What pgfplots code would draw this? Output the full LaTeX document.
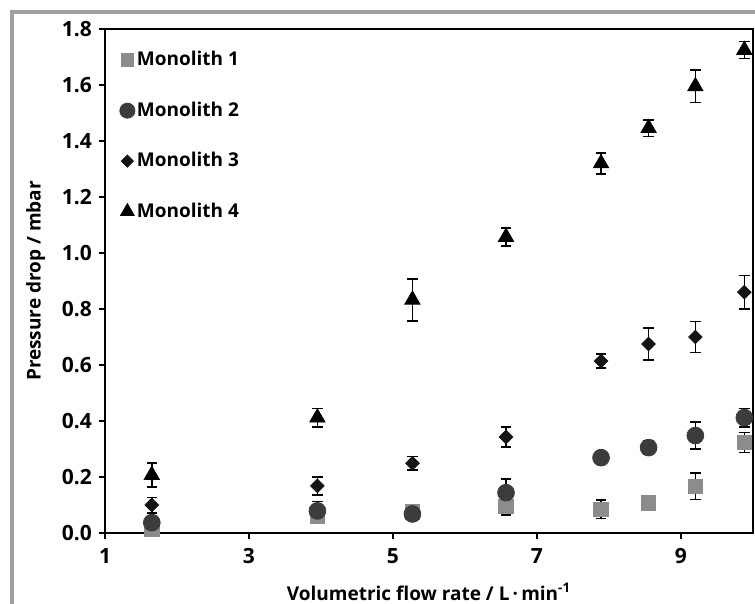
\documentclass[border=0pt]{standalone}
\usepackage{fontspec}
\setmainfont{Open Sans}
\usepackage{pgfplots}
\pgfplotsset{compat=1.18}

\definecolor{monoA}{HTML}{8C8C8C}
\definecolor{monoB}{HTML}{3C3C3C}
\definecolor{monoC}{HTML}{141414}
\definecolor{monoD}{HTML}{000000}
\definecolor{framegray}{HTML}{A0A0A0}

% x = flow rate, y = pressure drop, e = error
\pgfplotstableread{
x y e
1.65 0.015 0.015
3.95 0.060 0.020
5.27 0.075 0.020
6.57 0.094 0.030
7.89 0.085 0.033
8.55 0.108 0.025
9.20 0.167 0.048
9.88 0.323 0.036
}\monoone
\pgfplotstableread{
x y e
1.65 0.037 0.033
3.95 0.079 0.033
5.27 0.068 0.020
6.57 0.144 0.049
7.89 0.269 0.020
8.55 0.305 0.025
9.20 0.348 0.048
9.88 0.412 0.033
}\monotwo
\pgfplotstableread{
x y e
1.65 0.100 0.027
3.95 0.168 0.033
5.27 0.249 0.024
6.57 0.343 0.035
7.89 0.614 0.025
8.55 0.675 0.057
9.20 0.700 0.055
9.88 0.860 0.060
}\monothree
\pgfplotstableread{
x y e
1.65 0.207 0.042
3.95 0.412 0.033
5.27 0.833 0.075
6.57 1.057 0.032
7.89 1.320 0.038
8.55 1.446 0.030
9.20 1.595 0.058
9.88 1.725 0.030
}\monofour

\begin{document}
\begin{tikzpicture}[font=\bfseries\fontsize{9.5}{11}\selectfont]
\useasboundingbox (-52.5pt,-35.5pt) rectangle (325pt,266.5pt);
\draw[framegray, line width=1.8pt] (-46.5pt,-40pt) -- (-46.5pt,260.5pt) -- (330pt,260.5pt);
\begin{axis}[
  at={(0pt,0pt)}, anchor=south west,
  scale only axis, width=324pt, height=252pt,
  xmin=1, xmax=10, ymin=0, ymax=1.8,
  xtick={1,3,5,7,9},
  ytick={0,0.2,0.4,0.6,0.8,1.0,1.2,1.4,1.6,1.8},
  yticklabel style={/pgf/number format/.cd, fixed, fixed zerofill, precision=1},
  /pgf/number format/assume math mode=true,
  tick label style={font=\bfseries\fontsize{10.5}{12}\selectfont},
  xticklabel style={yshift=-1pt},
  tick align=outside, xtick pos=bottom, ytick pos=left,
  major tick length=3pt,
  every tick/.style={black, line width=0.8pt},
  axis line style={line width=1pt},
  xlabel={Volumetric flow rate / L\,·\,min\textsuperscript{-1}},
  ylabel={Pressure drop / mbar},
  xlabel style={yshift=-3pt},
  ylabel style={yshift=1.5pt},
  legend style={at={(0.013,0.972)}, anchor=north west, draw=none, fill=none,
    row sep=12.5pt, font=\bfseries\fontsize{9.5}{11}\selectfont,
    nodes={inner xsep=1pt}},
  legend cell align=left,
  legend image code/.code={\draw[mark repeat=2,mark phase=2,#1,/tikz/every mark/.append style={scale=0.9}] plot coordinates {(0cm,0cm) (0.14cm,0cm) (0.28cm,0cm)};},
  error bars/y dir=both, error bars/y explicit,
  error bars/error bar style={black, line width=0.8pt},
  error bars/error mark options={rotate=90, black, mark size=2.6pt, line width=0.8pt},
]
\addplot[only marks, mark=square*, mark size=3.6pt, color=monoA] table[x=x, y=y, y error=e] {\monoone};
\addlegendentry{Monolith 1}
\addplot[only marks, mark=*, mark size=4.2pt, color=monoB] table[x=x, y=y, y error=e] {\monotwo};
\addlegendentry{Monolith 2}
\addplot[only marks, mark=square*, mark size=2.4pt, mark options={rotate=45}, color=monoC] table[x=x, y=y, y error=e] {\monothree};
\addlegendentry{Monolith 3}
\addplot[only marks, mark=triangle*, mark size=4.4pt, color=monoD] table[x=x, y=y, y error=e] {\monofour};
\addlegendentry{Monolith 4}
\end{axis}
\end{tikzpicture}
\end{document}
